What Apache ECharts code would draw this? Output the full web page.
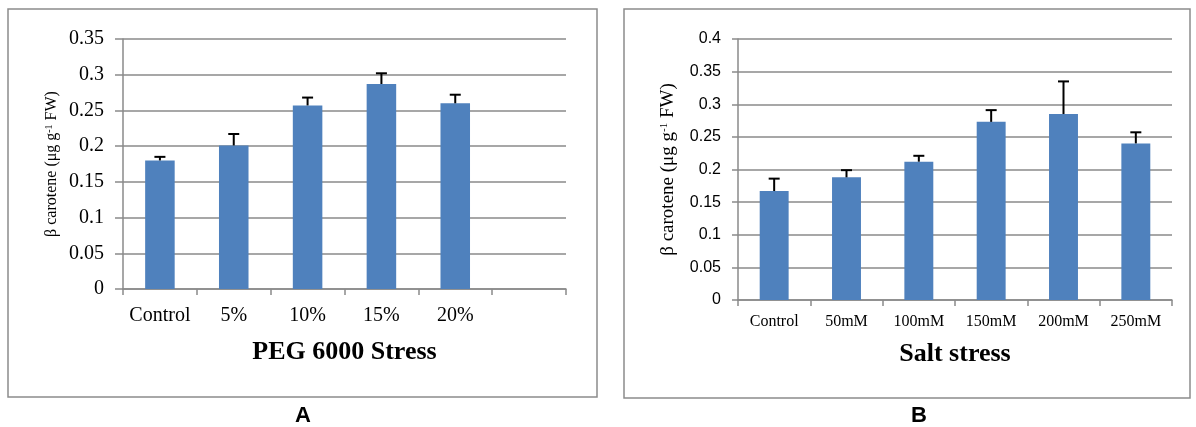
<!DOCTYPE html>
<html>
<head>
<meta charset="utf-8">
<script src="https://cdn.jsdelivr.net/npm/echarts@6/dist/echarts.min.js"></script>
<style>
  html, body { margin: 0; padding: 0; background: #ffffff; }
  #chart { width: 1196px; height: 427px; }
</style>
</head>
<body>
<div id="chart"></div>
<script>
// Panel A: PEG 6000 stress
const catsA = ['Control', '5%', '10%', '15%', '20%', ''];
const valsA = [0.180, 0.201, 0.257, 0.287, 0.260];
const errA  = [0.005, 0.016, 0.011, 0.015, 0.012];

// Panel B: salt stress
const catsB = ['Control', '50mM', '100mM', '150mM', '200mM', '250mM'];
const valsB = [0.167, 0.188, 0.212, 0.273, 0.285, 0.240];
const errB  = [0.019, 0.011, 0.009, 0.018, 0.050, 0.017];

const yTitle = 'β carotene (μg g{sup|-1} FW)';
const barColor = '#4F81BD';
const gridColor = '#8a8a8a';

function errorData(vals, errs) {
  return vals.map((v, i) => [i, v, errs[i]]);
}

// upper error bar: stem from the bar top plus a short cap
function errorBars(xi, yi, vals, errs) {
  return {
    type: 'custom',
    xAxisIndex: xi,
    yAxisIndex: yi,
    z: 5,
    data: errorData(vals, errs),
    renderItem: function (params, api) {
      const i = api.value(0), v = api.value(1), e = api.value(2);
      const base = api.coord([i, v]);
      const top = api.coord([i, v + e]);
      const half = 5.5;
      const style = { stroke: '#000000', lineWidth: 2 };
      return {
        type: 'group',
        children: [
          { type: 'line', shape: { x1: base[0], y1: base[1], x2: top[0], y2: top[1] }, style: style },
          { type: 'line', shape: { x1: top[0] - half, y1: top[1], x2: top[0] + half, y2: top[1] }, style: style }
        ]
      };
    }
  };
}

function yAxisDef(gridIndex, max, labelFont, labelSize, labelMargin, tickLen, nameSize, nameGap) {
  return {
    gridIndex: gridIndex,
    type: 'value',
    min: 0,
    max: max,
    interval: 0.05,
    axisLine: { show: true, lineStyle: { color: gridColor, width: 1.5 } },
    axisTick: { show: true, length: tickLen, lineStyle: { color: gridColor, width: 1.5 } },
    splitLine: { show: true, lineStyle: { color: gridColor, width: 1.5 } },
    axisLabel: { color: '#000', fontFamily: labelFont, fontSize: labelSize, margin: labelMargin },
    name: yTitle,
    nameLocation: 'middle',
    nameRotate: 90,
    nameGap: nameGap,
    nameTextStyle: {
      color: '#000', fontFamily: 'Liberation Serif', fontSize: nameSize,
      rich: { sup: { fontFamily: 'Liberation Serif', fontSize: Math.round(nameSize * 0.6), verticalAlign: 'top', color: '#000' } }
    }
  };
}

function xAxisDef(gridIndex, cats, labelSize, labelMargin, title, nameGap) {
  return {
    gridIndex: gridIndex,
    type: 'category',
    data: cats,
    axisLine: { show: true, lineStyle: { color: gridColor, width: 1.5 } },
    axisTick: { show: true, length: 6, lineStyle: { color: gridColor, width: 1.5 } },
    axisLabel: { color: '#000', fontFamily: 'Liberation Serif', fontSize: labelSize, margin: labelMargin, interval: 0 },
    name: title,
    nameLocation: 'middle',
    nameGap: nameGap,
    nameTextStyle: { color: '#000', fontFamily: 'Liberation Serif', fontSize: 26, fontWeight: 'bold' }
  };
}

const chart = echarts.init(document.getElementById('chart'), null, { renderer: 'canvas' });

chart.setOption({
  animation: false,
  backgroundColor: '#ffffff',
  grid: [
    { left: 123, top: 39, width: 443, height: 250 },
    { left: 738, top: 39, width: 434, height: 261 }
  ],
  xAxis: [
    xAxisDef(0, catsA, 20, 17, 'PEG 6000 Stress', 50),
    xAxisDef(1, catsB, 16, 14, 'Salt stress', 41)
  ],
  yAxis: [
    yAxisDef(0, 0.35, 'Liberation Serif', 20, 19, 8, 16, 63),
    yAxisDef(1, 0.4, 'Liberation Sans', 16, 17, 6, 19, 60)
  ],
  series: [
    { type: 'bar', xAxisIndex: 0, yAxisIndex: 0, data: valsA, barWidth: '40%', itemStyle: { color: barColor } },
    errorBars(0, 0, valsA, errA),
    { type: 'bar', xAxisIndex: 1, yAxisIndex: 1, data: valsB, barWidth: '40%', itemStyle: { color: barColor } },
    errorBars(1, 1, valsB, errB)
  ],
  graphic: [
    { type: 'rect', shape: { x: 8, y: 9, width: 589, height: 388 }, style: { fill: 'none', stroke: '#8c8c8c', lineWidth: 1.5 } },
    { type: 'rect', shape: { x: 624, y: 9, width: 566, height: 389 }, style: { fill: 'none', stroke: '#8c8c8c', lineWidth: 1.5 } },
    { type: 'text', x: 303, y: 416, style: { text: 'A', fill: '#000', font: 'bold 22px "Liberation Sans"', align: 'center', verticalAlign: 'middle' } },
    { type: 'text', x: 919, y: 416, style: { text: 'B', fill: '#000', font: 'bold 22px "Liberation Sans"', align: 'center', verticalAlign: 'middle' } }
  ]
});
</script>
</body>
</html>
